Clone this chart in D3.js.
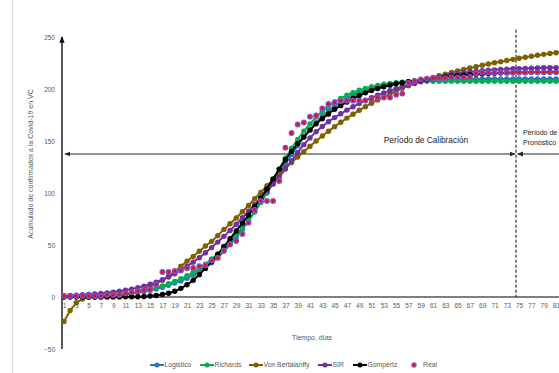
<!DOCTYPE html>
<html>
<head>
<meta charset="utf-8">
<script src="https://cdn.jsdelivr.net/npm/d3@7"></script>
<style>
  body { margin: 0; background: #fff; }
  svg { display: block; font-family: "Liberation Sans", Arial, sans-serif; }
</style>
</head>
<body>
<svg id="chart" width="559" height="373"></svg>
<script>
// days 1..82 (chart is cropped on the right)
const days = d3.range(1, 83);
const dayTicks = d3.range(1, 82, 2);
const yTicks = [-50, 0, 50, 100, 150, 200, 250];

const logistico = [0.5,0.6,0.7,0.8,1.0,1.2,1.4,1.7,2.0,2.5,
  3.0,3.6,4.4,5.3,6.4,7.8,9.4,11.3,13.5,15.5,
  18,21,24.5,28.5,33,38,44,50.5,57.5,65,
  73,82,91,100,109.5,119,128,137,145.5,153.5,
  161,167.5,173.5,179,183.5,187.5,191,194,196.5,198.5,
  200.5,202,203.5,204.5,205.5,206.3,207,207.6,208,208.4,
  208.7,209,209.2,209.3,209.4,209.5,209.5,209.5,209.6,209.6,
  209.6,209.6,209.6,209.7,209.7,209.7,209.7,209.7,209.7,209.7,
  209.7,209.7];

const richards = [0.3,0.4,0.5,0.7,0.9,1.1,1.4,1.8,2.2,2.8,
  3.4,4.2,5.1,6.2,7.5,9.0,10.7,12.7,15,17.5,
  20.5,23.5,27.5,31.5,36.5,41.5,47.5,53.5,59.5,66.5,
  74,82,91,100.5,111,123,133.5,143,151.5,159.5,
  166.5,173,178.5,183.5,187.5,191,194,196.5,198.8,200.6,
  202.1,203.4,204.5,205.4,206,206.5,206.9,207.2,207.4,207.5,
  207.5,207.5,207.5,207.5,207.5,207.5,207.5,207.5,207.5,207.5,
  207.5,207.5,207.5,207.5,207.5,207.5,207.5,207.5,207.5,207.5,
  207.5,207.5];

const vonBertalanffy = [-23.5,-13,-5.5,-2,-0.3,0,0.1,0.3,0.7,1.2,
  2.2,3.7,5.5,7.6,10,13,16,20,24,29.5,
  34.5,39,44,49,53.5,59,65,70.5,76,82,
  88,94.5,100.5,107,113,118.5,124,129.3,134.5,139.8,
  145,150,154.8,159.4,163.8,168,172,175.8,179.5,183,
  186.3,189.5,192.5,195.4,198.1,200.7,203.1,205.3,207.4,209.3,
  211,212.7,214.3,215.8,217.3,218.8,220.2,221.5,222.8,224,
  225.2,226.3,227.4,228.5,229.5,230.5,231.5,232.4,233.3,234.1,
  234.9,235.6];

const sir = [1.3,1.5,1.8,2.1,2.5,2.9,3.4,4,4.7,5.5,
  6.5,7.6,9,10.5,12.3,14.3,16.6,19.3,22.3,25.8,
  29.6,33.5,37.8,42.5,47.5,52.8,58.3,64,70,76.2,
  82.6,89,95.5,102,108.5,115.5,123,131,139,146.5,
  153,159,164,168.5,172.5,176.2,179.7,183,186,189,
  191.6,194,196.3,198.4,200.4,202.3,204,205.6,207,208.5,
  209.9,211.3,212.7,214,214.9,215.7,216.4,217,217.5,218,
  218.4,218.8,219.1,219.4,219.6,219.8,220,220.2,220.4,220.5,
  220.6,220.7];

const gompertz = [0,0,0,0,0,0,0,0.1,0.1,0.1,
  0.2,0.2,0.3,0.5,0.9,1.5,2.4,3.6,5.5,8.3,
  11.8,16,21.5,27.5,34,41,48.5,56,63.5,71,
  78.5,86.5,95,104,113.5,123,132,140,147.5,154,
  160.5,166.5,171.5,176,180.5,184,187.5,190.8,193.7,196.3,
  198.5,200.5,202.2,203.7,205,206,207,207.8,208.6,209.3,
  210,210.8,211.5,212.2,212.8,213.3,213.8,214.3,214.6,214.9,
  215.1,215.3,215.5,215.6,215.8,215.9,216,216.1,216.2,216.3,
  216.4,216.4];

const real = [1,1,1,1,1,1,1,2,2,2,
  3.5,4.5,5.5,6.5,7,12,24,24,25,25.5,
  27.6,28,29.6,30.5,35,37.6,44.7,50.6,53.8,60.6,
  71.5,83.7,92.3,92.3,92.3,111.5,143.6,157.7,165.8,167.8,
  173.4,174.5,181.4,185.6,187,188.4,188.8,188.8,188.8,189,
  190,191.8,191.8,191.8,194.5,195.6,205.7,207.8,209.3,210,
  210.3,210.3,210.3,211.2,211.2,211.2,211.5,215.2,215.8,215.8,
  215.8,215.8,215.8,215.8,215.8,215.8,216,216,216,216,
  216,216];

const series = [
  {name: 'Logistico', values: logistico, color: '#2e75b6'},
  {name: 'Richards', values: richards, color: '#00b050'},
  {name: 'Von Bertalanffy', values: vonBertalanffy, color: '#7f6000'},
  {name: 'SIR', values: sir, color: '#7030a0'},
  {name: 'Gompertz', values: gompertz, color: '#000000'}
];

const splitDay = 74.5;      // calibration / forecast boundary
const arrowLevel = 137.5;   // height of the period arrows

const svg = d3.select('#chart');

const x = d3.scaleLinear().domain([1, 82]).range([64, 562.15]);
const y = d3.scaleLinear().domain([-50, 250]).range([349, 37]);

// arrow heads
const defs = svg.append('defs');
function arrowHead(id, color) {
  defs.append('marker')
    .attr('id', id)
    .attr('viewBox', '0 0 10 10')
    .attr('refX', 9).attr('refY', 5)
    .attr('markerWidth', 5).attr('markerHeight', 5)
    .attr('orient', 'auto-start-reverse')
    .append('path')
    .attr('d', 'M0,1 L10,5 L0,9 z')
    .attr('fill', color);
}
arrowHead('arrowBlack', '#000');
arrowHead('arrowGray', '#262626');

// faint chart border on the left
svg.append('line')
  .attr('x1', 12.5).attr('x2', 12.5)
  .attr('y1', 0).attr('y2', 373)
  .attr('stroke', '#d9d9d9').attr('stroke-width', 1);

// y axis labels
const yAxis = svg.append('g')
  .attr('transform', 'translate(62,0)')
  .call(d3.axisLeft(y).tickValues(yTicks).tickSize(0).tickPadding(7));
yAxis.select('.domain').remove();
yAxis.selectAll('text')
  .attr('fill', '#595959')
  .style('font-size', '6.5px');

// x axis labels
const xAxis = svg.append('g')
  .attr('transform', 'translate(0,' + y(0) + ')')
  .call(d3.axisBottom(x).tickValues(dayTicks).tickSize(0).tickPadding(6.5));
xAxis.select('.domain').remove();
xAxis.selectAll('text')
  .attr('fill', '#595959')
  .style('font-size', '6.5px');

// axis lines
svg.append('line')
  .attr('x1', 62).attr('x2', 640)
  .attr('y1', y(0)).attr('y2', y(0))
  .attr('stroke', '#000').attr('stroke-width', 1.2);

svg.append('line')
  .attr('x1', 62).attr('x2', 62)
  .attr('y1', y(-50)).attr('y2', y(250))
  .attr('stroke', '#000').attr('stroke-width', 1.3)
  .attr('marker-end', 'url(#arrowBlack)');

// axis titles
svg.append('text')
  .attr('transform', 'translate(33,164) rotate(-90)')
  .attr('text-anchor', 'middle')
  .attr('fill', '#595959')
  .style('font-size', '7px')
  .text('Acumulado de confirmados a la Covid-19 en VC');

svg.append('text')
  .attr('x', 312).attr('y', 340)
  .attr('text-anchor', 'middle')
  .attr('fill', '#595959')
  .style('font-size', '7px')
  .text('Tiempo, días');

// period annotations
svg.append('line')
  .attr('x1', x(splitDay)).attr('x2', x(splitDay))
  .attr('y1', y(257)).attr('y2', y(0))
  .attr('stroke', '#000').attr('stroke-width', 1)
  .attr('stroke-dasharray', '3,2');

svg.append('line')
  .attr('x1', 65).attr('x2', x(splitDay) - 1)
  .attr('y1', y(arrowLevel)).attr('y2', y(arrowLevel))
  .attr('stroke', '#262626').attr('stroke-width', 1.2)
  .attr('marker-start', 'url(#arrowGray)')
  .attr('marker-end', 'url(#arrowGray)');

svg.append('line')
  .attr('x1', x(splitDay) + 1.5).attr('x2', 700)
  .attr('y1', y(arrowLevel)).attr('y2', y(arrowLevel))
  .attr('stroke', '#262626').attr('stroke-width', 1.2)
  .attr('marker-start', 'url(#arrowGray)');

svg.append('text')
  .attr('x', 426).attr('y', 143)
  .attr('text-anchor', 'middle')
  .attr('fill', '#1a1a1a')
  .style('font-size', '8.3px')
  .text('Período de Calibración');

const fc = svg.append('text')
  .attr('x', 523).attr('y', 135)
  .attr('fill', '#1a1a1a')
  .style('font-size', '7px');
fc.append('tspan').attr('x', 523).text('Período de');
fc.append('tspan').attr('x', 523).attr('dy', 10).text('Pronóstico');

// model series
const line = d3.line()
  .x((d, i) => x(days[i]))
  .y(d => y(d));

series.forEach(s => {
  const g = svg.append('g');
  g.append('path')
    .datum(s.values)
    .attr('fill', 'none')
    .attr('stroke', s.color)
    .attr('stroke-width', 2)
    .attr('d', line);
  g.selectAll('circle')
    .data(s.values)
    .enter().append('circle')
    .attr('cx', (d, i) => x(days[i]))
    .attr('cy', d => y(d))
    .attr('r', 2.7)
    .attr('fill', s.color);
});

// observed data
svg.append('g').selectAll('circle')
  .data(real)
  .enter().append('circle')
  .attr('cx', (d, i) => x(days[i]))
  .attr('cy', d => y(d))
  .attr('r', 2.2)
  .attr('fill', '#ff0000')
  .attr('stroke', '#8552bb')
  .attr('stroke-width', 1.5);

// legend
const legendItems = [
  {name: 'Logistico', color: '#2e75b6', x: 150},
  {name: 'Richards', color: '#00b050', x: 200},
  {name: 'Von Bertalanffy', color: '#7f6000', x: 249},
  {name: 'SIR', color: '#7030a0', x: 318},
  {name: 'Gompertz', color: '#000000', x: 353}
];
const legend = svg.append('g').attr('transform', 'translate(0,365)');
legendItems.forEach(item => {
  legend.append('line')
    .attr('x1', item.x).attr('x2', item.x + 14)
    .attr('stroke', item.color).attr('stroke-width', 2);
  legend.append('circle')
    .attr('cx', item.x + 7).attr('r', 2.5)
    .attr('fill', item.color);
  legend.append('text')
    .attr('x', item.x + 14.5).attr('y', 2.3)
    .attr('fill', '#595959')
    .style('font-size', '6.8px')
    .text(item.name);
});
legend.append('circle')
  .attr('cx', 414).attr('r', 2)
  .attr('fill', '#ff0000')
  .attr('stroke', '#8552bb').attr('stroke-width', 1.4);
legend.append('text')
  .attr('x', 423).attr('y', 2.3)
  .attr('fill', '#595959')
  .style('font-size', '6.8px')
  .text('Real');
</script>
</body>
</html>
